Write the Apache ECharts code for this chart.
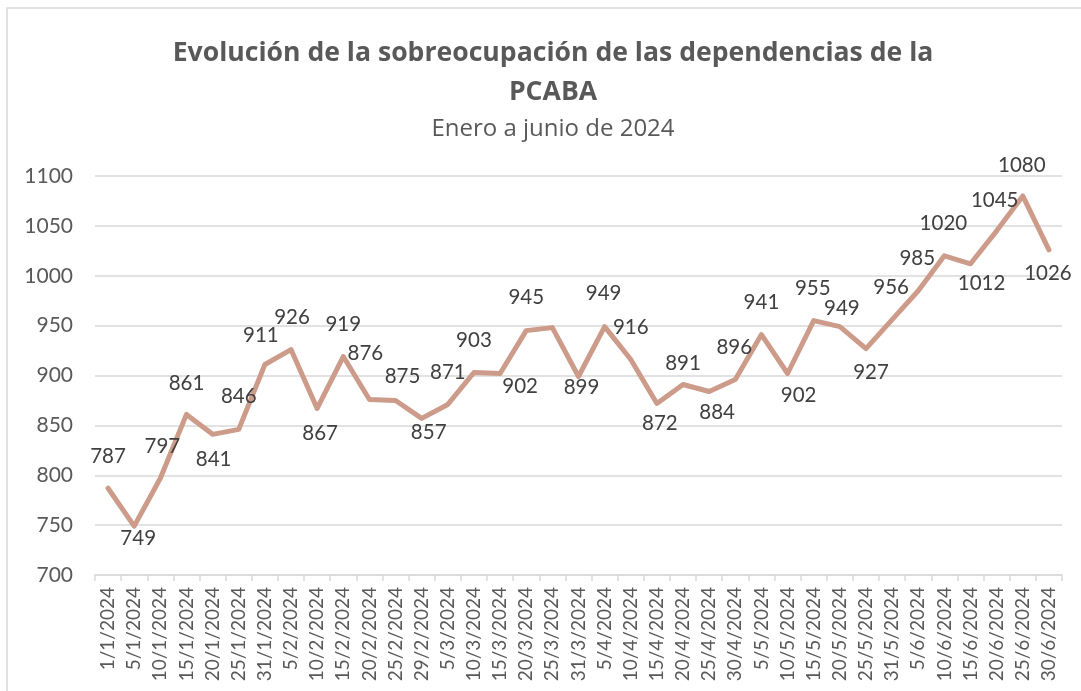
<!DOCTYPE html>
<html>
<head>
<meta charset="utf-8">
<title>Sobreocupación PCABA</title>
<script src="https://cdn.jsdelivr.net/npm/echarts@6/dist/echarts.min.js"></script>
<style>
  html, body { margin: 0; padding: 0; background: #fff; }
  #chart { width: 1081px; height: 691px; }
</style>
</head>
<body>
<div id="chart"></div>
<script>
// fechas del eje x
var fechas = ['1/1/2024', '5/1/2024', '10/1/2024', '15/1/2024', '20/1/2024', '25/1/2024', '31/1/2024',
  '5/2/2024', '10/2/2024', '15/2/2024', '20/2/2024', '25/2/2024', '29/2/2024',
  '5/3/2024', '10/3/2024', '15/3/2024', '20/3/2024', '25/3/2024', '31/3/2024',
  '5/4/2024', '10/4/2024', '15/4/2024', '20/4/2024', '25/4/2024', '30/4/2024',
  '5/5/2024', '10/5/2024', '15/5/2024', '20/5/2024', '25/5/2024', '31/5/2024',
  '5/6/2024', '10/6/2024', '15/6/2024', '20/6/2024', '25/6/2024', '30/6/2024'];

// sobreocupación
var sobreocupacion = [787, 749, 797, 861, 841, 846, 911,
  926, 867, 919, 876, 875, 857,
  871, 903, 902, 945, 948, 899,
  949, 916, 872, 891, 884, 896,
  941, 902, 955, 949, 927, 956,
  985, 1020, 1012, 1045, 1080, 1026];

// ticks del eje y
var yMin = 700, yMax = 1100, yPaso = 50;

// desplazamiento de cada etiqueta respecto del punto (null = sin etiqueta)
var etiquetaOffset = [[0,-32],[4,12],[2,-32],[0,-31],[1,25],[0,-33],[-4,-29],
  [1,-32],[3,25],[0,-32],[-4,-46],[7,-24],[7,14],
  [0,-32],[0,-32],[20,13],[0,-33],null,[3,11],
  [-1,-33],[0,-32],[3,20],[0,-21],[8,21],[-1,-32],
  [0,-32],[11,22],[-1,-32],[2,-18],[5,24],[-1,-32],
  [-1,-32],[-1,-32],[11,20],[-2,-30],[-1,-31],[-1,24]];

var colorLinea = '#CD9B89';
var fuente = 'Lato';
var fuenteTitulo = 'Open Sans';

var puntos = sobreocupacion.map(function (v, i) {
  var off = etiquetaOffset[i];
  return {
    value: v,
    label: off ? { show: true, offset: off } : { show: false }
  };
});

var chart = echarts.init(document.getElementById('chart'));
chart.setOption({
  animation: false,
  title: [
    {
      text: 'Evolución de la sobreocupación de las dependencias de la\nPCABA',
      left: 548,
      top: 29,
      textAlign: 'center',
      textStyle: {
        fontFamily: fuenteTitulo,
        fontSize: 26.6,
        fontWeight: 'bold',
        color: '#595959',
        lineHeight: 39,
        align: 'center'
      }
    },
    {
      text: 'Enero a junio de 2024',
      left: 548,
      top: 112,
      textAlign: 'center',
      textStyle: {
        fontFamily: fuenteTitulo,
        fontSize: 24,
        fontWeight: 'normal',
        color: '#595959'
      }
    }
  ],
  graphic: [{
    type: 'rect',
    shape: { x: 7, y: 8, width: 1200, height: 800 },
    style: { fill: 'none', stroke: '#d9d9d9', lineWidth: 1.5 },
    silent: true
  }],
  grid: { left: 95, right: 19, top: 176, bottom: 116 },
  xAxis: {
    type: 'category',
    data: fechas,
    boundaryGap: true,
    axisLine: { lineStyle: { color: '#d9d9d9', width: 1.5 } },
    axisTick: { show: true, length: 6, lineStyle: { color: '#d9d9d9', width: 1.5 } },
    axisLabel: {
      interval: 0,
      rotate: 90,
      margin: 12,
      fontFamily: fuente,
      fontSize: 19,
      color: '#595959'
    }
  },
  yAxis: {
    type: 'value',
    min: yMin,
    max: yMax,
    interval: yPaso,
    axisLine: { show: false },
    axisTick: { show: false },
    splitLine: { lineStyle: { color: '#d9d9d9', width: 1.5 } },
    axisLabel: {
      margin: 22,
      fontFamily: fuente,
      fontSize: 21,
      color: '#595959',
      formatter: function (v) { return String(v); }
    }
  },
  series: [{
    type: 'line',
    data: puntos,
    symbol: 'circle',
    symbolSize: 2,
    itemStyle: { color: colorLinea },
    lineStyle: { color: colorLinea, width: 5, join: 'round', cap: 'round' },
    label: {
      show: true,
      position: 'inside',
      fontFamily: fuente,
      fontSize: 20.5,
      color: '#404040'
    }
  }]
});
</script>
</body>
</html>
